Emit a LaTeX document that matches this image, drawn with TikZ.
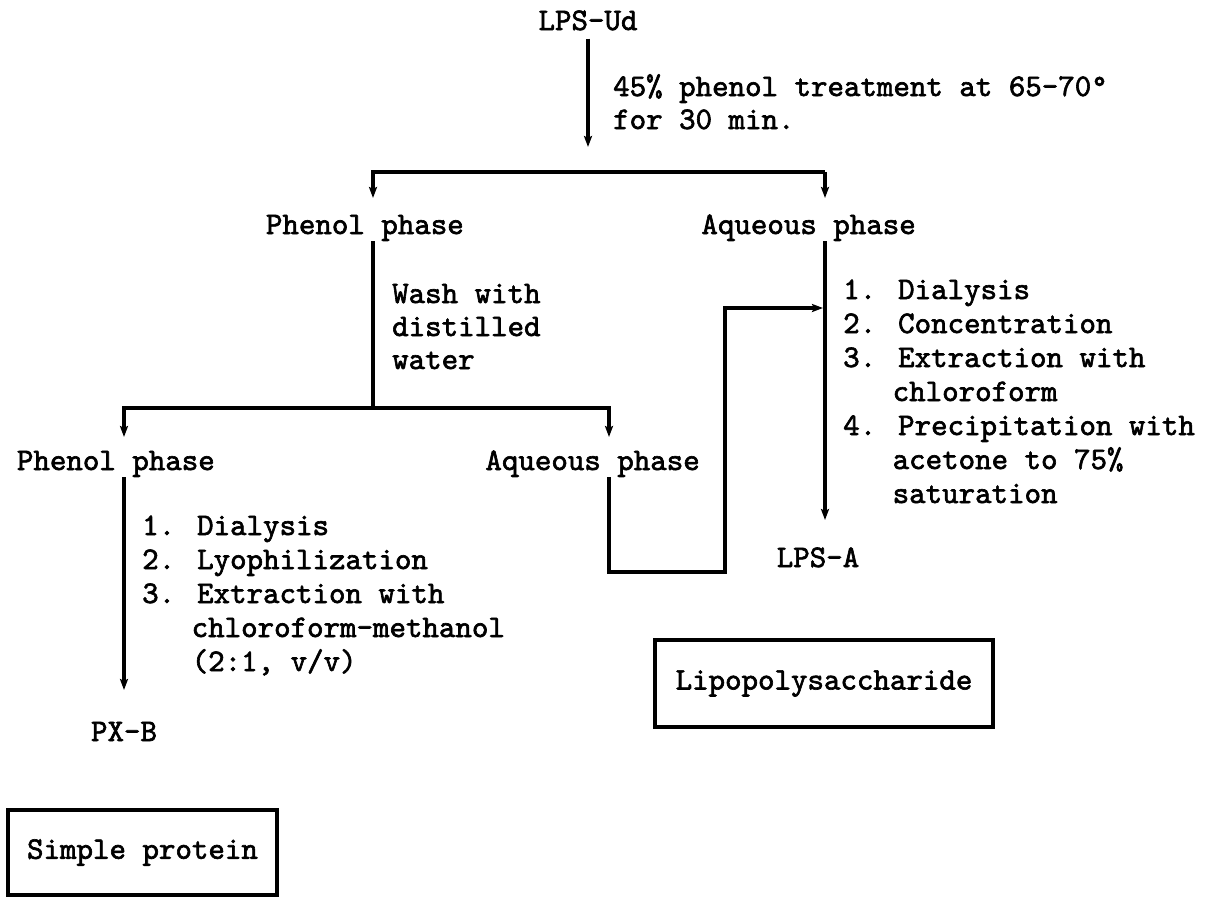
\documentclass[tikz,border=0pt]{standalone}
\usepackage{fontspec}
\usetikzlibrary{arrows.meta}
% typewriter face, slightly emboldened
\newfontfamily\tw{lmmono10-regular.otf}[FakeBold=2]
\begin{document}
\begin{tikzpicture}[x=1pt,y=-1pt,
  lbl/.style={inner sep=0pt, anchor=base west,
    font=\tw\fontsize{31.4}{34}\selectfont},
  ln/.style={line width=3.2pt},
  arr/.style={ln, -{Stealth[length=11pt,width=8pt,inset=2pt]}},
  box/.style={draw, line width=3.2pt, inner sep=0pt,
    font=\tw\fontsize{31.4}{34}\selectfont}]
\useasboundingbox (0,0) rectangle (1210,897);

% starting material and phenol treatment
\node[lbl, anchor=base] (ud) at (588,30) {LPS-Ud};
\coordinate (t1) at (588,147);
\draw[arr] ([yshift=-8pt]ud.south) -- (t1);
\node[lbl] (tr1) at (613,96) {45\% phenol treatment at 65-70°};
\node[lbl] (tr2) at (613,129) {for 30 min.};

% first split
\coordinate (b1l) at (373,172);
\coordinate (b1r) at (825,172);
\coordinate (k1) at (373,198);
\coordinate (k2) at (825,198);
\draw[arr] (b1r) -| (k1);
\draw[arr] (b1r) -- (k2);
\node[lbl] (ph1) at (265.75,234) {Phenol phase};
\node[lbl] (aq1) at (701.25,234) {Aqueous phase};

% washing of the phenol phase
\node[lbl] (w1) at (392,303) {Wash with};
\node[lbl] (w2) at (392,336) {distilled};
\node[lbl] (w3) at (392,369) {water};

% second split
\coordinate (j2) at (373,408);
\coordinate (k3) at (124,437);
\coordinate (k4) at (609,437);
\draw[ln] (ph1.south -| j2) -- (j2);
\draw[arr] (j2) -| (k3);
\draw[arr] (j2) -| (k4);
\node[lbl] (ph2) at (16.75,470) {Phenol phase};
\node[lbl] (aq2) at (485.25,470) {Aqueous phase};

% phenol phase work-up
\coordinate (k5) at (124,690);
\draw[arr] (ph2.south -| k3) -- (k5);
\node[lbl] (p1) at (142,535) {1. Dialysis};
\node[lbl] (p2) at (142,569) {2. Lyophilization};
\node[lbl] (p3) at (142,603) {3. Extraction with};
\node[lbl] (p4) at (191.5,637) {chloroform-methanol};
\node[lbl] (p5) at (191.5,671) {(2:1, v/v)};
\node[lbl, anchor=base] (pxb) at (124,741) {PX-B};

% aqueous washings joined to the first aqueous phase
\coordinate (c1) at (725,572);
\coordinate (k6) at (823,308);
\draw[arr] (aq2.south -| k4) |- (c1) |- (k6);

% aqueous phase work-up
\coordinate (k7) at (825,520);
\draw[arr] (aq1.south -| k7) -- (k7);
\node[lbl] (a1) at (843,299) {1. Dialysis};
\node[lbl] (a2) at (843,333) {2. Concentration};
\node[lbl] (a3) at (843,367) {3. Extraction with};
\node[lbl] (a4) at (892.5,401) {chloroform};
\node[lbl] (a5) at (843,435) {4. Precipitation with};
\node[lbl] (a6) at (892.5,469) {acetone to 75\%};
\node[lbl] (a7) at (892.5,503) {saturation};
\node[lbl, anchor=base] (lpsa) at (818,567) {LPS-A};

% product classes
\node[box, minimum width=338pt, minimum height=87pt] (lps) at (824,683.5) {Lipopolysaccharide};
\node[box, minimum width=269pt, minimum height=85pt] (sp) at (142.5,852.5) {Simple protein};
\end{tikzpicture}
\end{document}
